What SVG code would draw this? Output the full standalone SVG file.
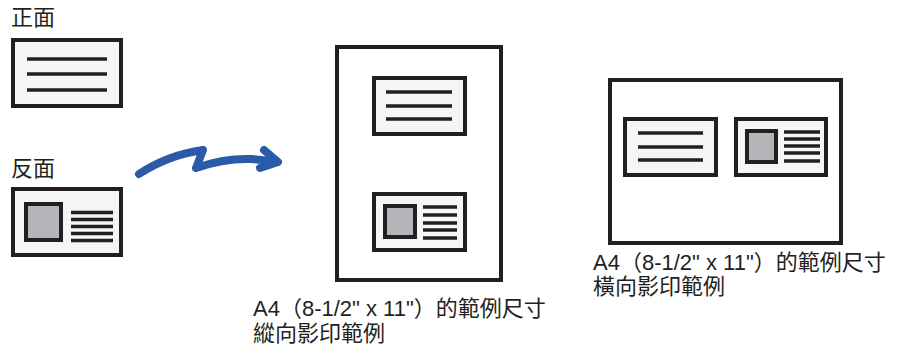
<svg xmlns="http://www.w3.org/2000/svg" width="897" height="350" viewBox="0 0 897 350">
<style>
.t{font-family:"Liberation Sans","Noto Sans CJK TC",sans-serif;font-size:22px;fill:#231f20}
.page{fill:#fff;stroke:#231f20;stroke-width:4}
.card{fill:#f5f5f5;stroke:#231f20;stroke-width:4}
.photo{fill:#b4b5b8;stroke:#231f20;stroke-width:4}
.ln{stroke:#231f20;stroke-width:3.5;fill:none}
.arrow{fill:none;stroke:#2b5ba8;stroke-width:8;stroke-linecap:round;stroke-linejoin:round}
</style>
<rect width="897" height="350" fill="#fff"/>
<g id="front">
<text class="t" x="11" y="25">正面</text>
<rect class="card" x="13" y="40" width="108" height="66"/>
<path class="ln" d="M27,59H107M27,74H107M27,90H107"/>
</g>
<g id="back">
<text class="t" x="11" y="176">反面</text>
<rect class="card" x="13" y="189" width="108" height="66"/>
<rect class="photo" x="26" y="204" width="35" height="36"/>
<path class="ln" d="M71,212.5H113M71,219.5H113M71,226.5H113M71,233.5H113M71,240.5H113"/>
</g>
<g id="connectors">
<path class="arrow" d="M139,174 Q168,155 203,150 L196,168 Q224,158 252,159 Q266,160 277,162"/>
<path class="arrow" d="M264,150 L278,162 L260,168"/>
</g>
<g id="portrait">
<rect class="page" x="337" y="47" width="164" height="233"/>
<rect class="card" x="374" y="78" width="91" height="56"/>
<path class="ln" d="M386,92H452M386,106H452M386,119H452"/>
<rect class="card" x="374" y="194" width="91" height="56"/>
<rect class="photo" x="385" y="206" width="30" height="31"/>
<path class="ln" d="M423,207H457M423,215H457M423,223H457M423,230H457M423,238H457"/>
<text class="t" x="253" y="316">A4（8-1/2" x 11"）的範例尺寸</text>
<text class="t" x="253" y="341">縱向影印範例</text>
</g>
<g id="landscape">
<rect class="page" x="610" y="80" width="231" height="163"/>
<rect class="card" x="625" y="119" width="91" height="56"/>
<path class="ln" d="M638,133H703M638,147H703M638,160H703"/>
<rect class="card" x="736" y="119" width="90" height="56"/>
<rect class="photo" x="747" y="131" width="29" height="31"/>
<path class="ln" d="M784,132H820M784,139H820M784,146H820M784,153H820M784,161H820"/>
<text class="t" x="593" y="270">A4（8-1/2" x 11"）的範例尺寸</text>
<text class="t" x="593" y="294">橫向影印範例</text>
</g>
</svg>
